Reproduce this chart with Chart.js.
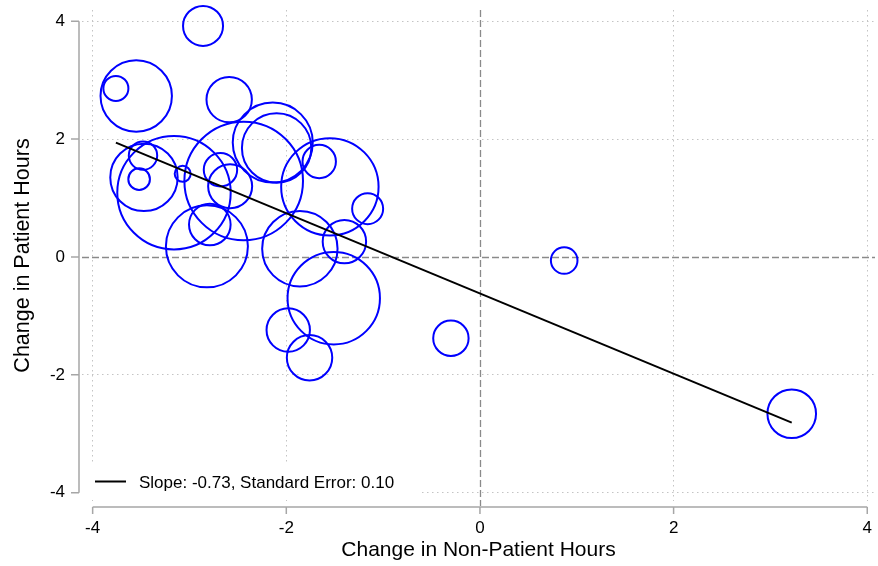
<!DOCTYPE html>
<html>
<head>
<meta charset="utf-8">
<script src="https://cdn.jsdelivr.net/npm/chart.js@4.4.0/dist/chart.umd.min.js"></script>
<style>
  html, body { margin: 0; padding: 0; background: #ffffff; }
</style>
</head>
<body>
<canvas id="chart" width="878" height="566"></canvas>
<script>
// data
const nonPatientChange = [-2.86, -3.55, -3.76, -2.59, -2.14, -2.10, -2.44, -3.16, -3.47, -3.48, -3.52, -3.07, -2.68, -2.58,
  -2.79, -2.82, -1.66, -1.55, -1.16, -1.40, -1.86, -1.51, -1.98, -1.76, -0.30, 0.87, 3.22];
const patientChange = [3.92, 2.73, 2.86, 2.67, 1.94, 1.85, 1.29, 1.09, 1.35, 1.72, 1.32, 1.41, 1.48, 1.20,
  0.55, 0.18, 1.62, 1.19, 0.82, 0.26, 0.14, -0.70, -1.24, -1.71, -1.38, -0.06, -2.66];
const weights = [20, 35.7, 12.5, 22.7, 40, 34.7, 59.3, 56.7, 33.7, 14.2, 10.8, 8, 16.7, 22,
  20.8, 41, 16.7, 48.7, 15.5, 21.7, 37.7, 46.2, 21.7, 22.7, 17.7, 13.3, 24.3];
const fitX = [-3.76, 3.22];
const fitY = [1.94, -2.81];
const tickValues = [-4, -2, 0, 2, 4];
const legendLabel = 'Slope: -0.73, Standard Error: 0.10';
const xTitle = 'Change in Non-Patient Hours';
const yTitle = 'Change in Patient Hours';

const FONT = "'Liberation Sans', Arial, sans-serif";

// линии нуля, оси со смещением и легенда внутри поля
const stataDecor = {
  id: 'stataDecor',
  beforeDatasetsDraw(chart) {
    const { ctx, chartArea: { left, right, top, bottom }, scales: { x, y } } = chart;
    ctx.save();
    ctx.strokeStyle = '#8a8a8a';
    ctx.lineWidth = 1.3;
    ctx.setLineDash([7, 3]);
    const x0 = Math.round(x.getPixelForValue(0)) + 0.5;
    const y0 = Math.round(y.getPixelForValue(0)) + 0.5;
    ctx.beginPath();
    ctx.moveTo(x0, top);
    ctx.lineTo(x0, bottom + 5);
    ctx.moveTo(left, y0);
    ctx.lineTo(right, y0);
    ctx.stroke();
    ctx.restore();
  },
  afterDraw(chart) {
    const { ctx, chartArea: { left, bottom }, scales: { x, y } } = chart;
    ctx.save();
    // axes
    ctx.strokeStyle = '#a6a6a6';
    ctx.lineWidth = 1.5;
    const ax = left - 3;
    const ay = bottom + 6;
    const yTop = y.getPixelForValue(tickValues[tickValues.length - 1]);
    const yBot = y.getPixelForValue(tickValues[0]);
    const xL = x.getPixelForValue(tickValues[0]);
    const xR = x.getPixelForValue(tickValues[tickValues.length - 1]);
    ctx.beginPath();
    ctx.moveTo(ax, yTop);
    ctx.lineTo(ax, yBot);
    ctx.moveTo(xL, ay);
    ctx.lineTo(xR, ay);
    tickValues.forEach((v) => {
      const py = y.getPixelForValue(v);
      ctx.moveTo(ax, py);
      ctx.lineTo(ax - 8, py);
      const px = x.getPixelForValue(v);
      ctx.moveTo(px, ay);
      ctx.lineTo(px, ay + 7);
    });
    ctx.stroke();

    // legend box
    const bx = left;
    const by = bottom - 37;
    ctx.fillStyle = '#ffffff';
    ctx.fillRect(bx, by, 339, 35);
    ctx.strokeStyle = '#000000';
    ctx.lineWidth = 2;
    ctx.beginPath();
    ctx.moveTo(bx + 13, by + 17.5);
    ctx.lineTo(bx + 44, by + 17.5);
    ctx.stroke();
    ctx.fillStyle = '#000000';
    ctx.font = `17px ${FONT}`;
    ctx.textBaseline = 'alphabetic';
    ctx.fillText(legendLabel, bx + 57, by + 23.5);
    ctx.restore();
  },
};

const gridColor = (c) => (c.tick && c.tick.value === 0 ? 'rgba(0,0,0,0)' : '#c4c4c4');

const noScalePadding = (s) => {
  s.paddingLeft = 0;
  s.paddingRight = 0;
  s.paddingTop = 0;
  s.paddingBottom = 0;
};

const chart = new Chart(document.getElementById('chart'), {
  data: {
    datasets: [
      {
        type: 'line',
        data: fitX.map((v, i) => ({ x: v, y: fitY[i] })),
        borderColor: '#000000',
        borderWidth: 2,
        pointRadius: 0,
        fill: false,
      },
      {
        type: 'bubble',
        data: nonPatientChange.map((v, i) => ({ x: v, y: patientChange[i], r: weights[i] })),
        backgroundColor: 'rgba(0,0,0,0)',
        borderColor: '#0000ff',
        borderWidth: 2,
        clip: false,
      },
    ],
  },
  options: {
    responsive: false,
    animation: false,
    events: [],
    layout: { autoPadding: false, padding: { top: 10, right: 3, left: 0, bottom: 0 } },
    plugins: {
      legend: { display: false },
      tooltip: { enabled: false },
    },
    scales: {
      x: {
        type: 'linear',
        min: -4.11,
        max: 4.08,
        afterBuildTicks: (s) => { s.ticks = tickValues.map((v) => ({ value: v })); },
        afterFit: (s) => { s.height = 65; noScalePadding(s); },
        grid: { color: gridColor, lineWidth: 1, drawTicks: false },
        border: { display: false, dash: [1.5, 3.5] },
        ticks: { color: '#000000', font: { family: FONT, size: 17 }, padding: 17, maxRotation: 0 },
        title: {
          display: true, text: xTitle, color: '#000000',
          font: { family: FONT, size: 21 }, padding: { top: 0, bottom: 3 },
        },
      },
      y: {
        type: 'linear',
        min: -4.14,
        max: 4.19,
        afterBuildTicks: (s) => { s.ticks = tickValues.map((v) => ({ value: v })); },
        afterFit: (s) => { s.width = 82; noScalePadding(s); },
        grid: { color: gridColor, lineWidth: 1, drawTicks: false },
        border: { display: false, dash: [1.5, 3.5] },
        ticks: { color: '#000000', font: { family: FONT, size: 17 }, padding: 17 },
        title: {
          display: true, text: yTitle, color: '#000000',
          font: { family: FONT, size: 21.5 }, padding: { top: 10, bottom: 0 },
        },
      },
    },
  },
  plugins: [stataDecor],
});
</script>
</body>
</html>
